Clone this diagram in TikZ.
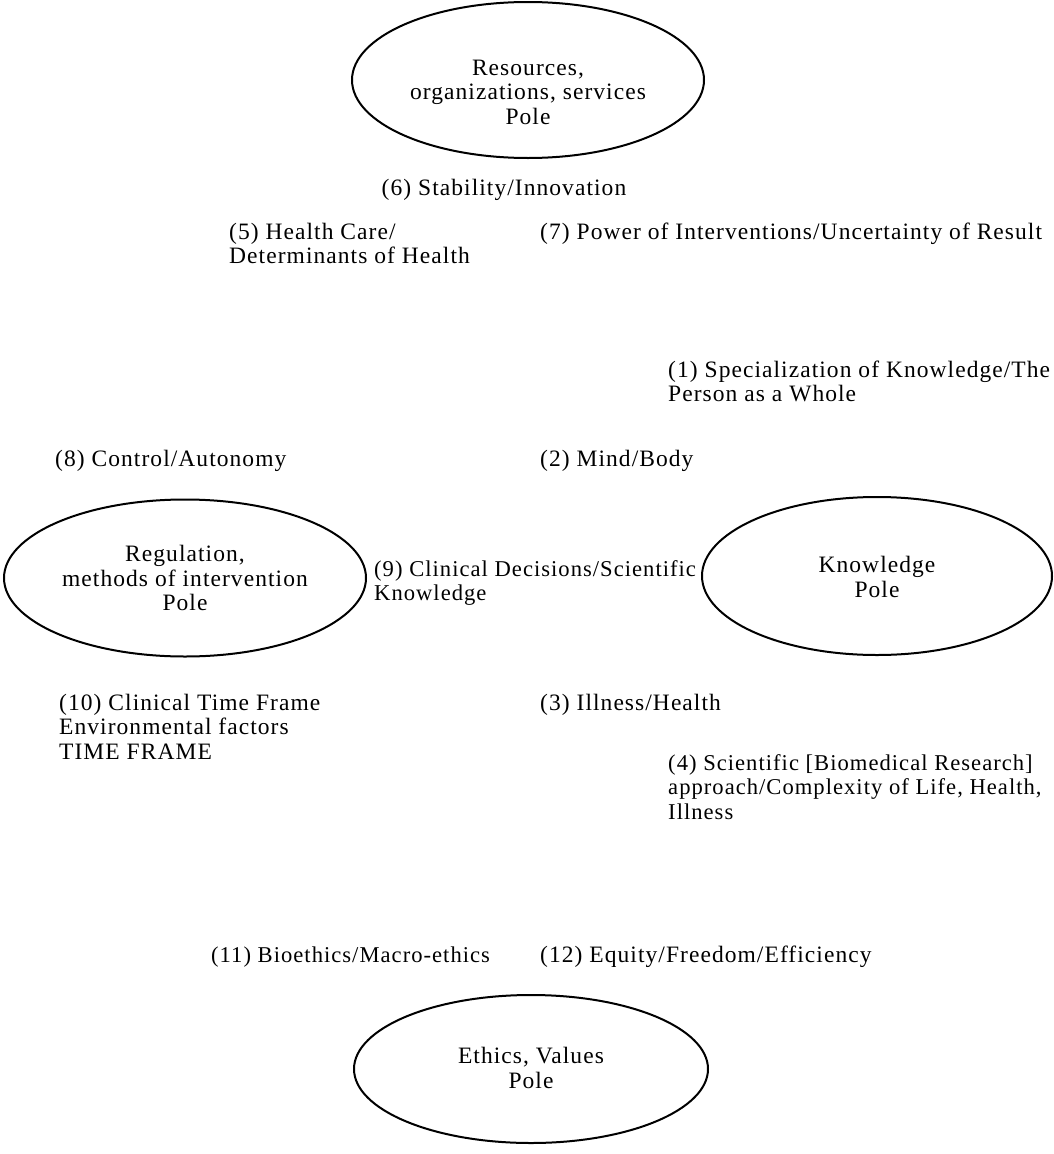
\documentclass[tikz,border=0pt]{standalone}
\usepackage{fontspec}
\setmainfont[LetterSpace=4.5]{Liberation Serif}
\usetikzlibrary{shapes.geometric}
\tikzset{
  pole/.style={draw, ellipse, line width=2pt, inner sep=0pt},
  poletext/.style={align=center, inner sep=0pt, font=\fontsize{23.5}{24.5}\selectfont},
  tlabel/.style={align=left, inner sep=0pt, anchor=base west, font=\fontsize{23.5}{24.5}\selectfont},
  tsmall/.style={tlabel, font=\fontsize{22.6}{24.5}\selectfont},
}
\begin{document}
\begin{tikzpicture}[x=1pt,y=-1pt]
\useasboundingbox (0,0) rectangle (1054,1154);
% poles
\node[pole, minimum width=352pt, minimum height=156pt] (res) at (528,80) {};
\node[pole, minimum width=362pt, minimum height=157pt] (reg) at (185,578) {};
\node[pole, minimum width=350pt, minimum height=158pt] (kno) at (877,576) {};
\node[pole, minimum width=354pt, minimum height=148pt] (eth) at (531,1069) {};
\node[poletext] (rest) at (528,92) {Resources,\\organizations, services\\Pole};
\node[poletext] (regt) at (185,578) {Regulation,\\methods of intervention\\Pole};
\node[poletext] (knot) at (877,577) {Knowledge\\Pole};
\node[poletext] (etht) at (531,1068) {Ethics, Values\\Pole};
% tensions (multi-line nodes: base = last line)
\node[tlabel, anchor=base] (t6) at (504,195) {(6) Stability/Innovation};
\node[tlabel] (t5) at (229,263.5) {(5) Health Care/\\Determinants of Health};
\node[tlabel] (t7) at (540,239) {(7) Power of Interventions/Uncertainty of Result};
\node[tlabel] (t1) at (668,401.5) {(1) Specialization of Knowledge/The\\Person as a Whole};
\node[tlabel] (t8) at (55,466) {(8) Control/Autonomy};
\node[tlabel] (t2) at (540,466) {(2) Mind/Body};
\node[tsmall] (t9) at (374,600.5) {(9) Clinical Decisions/Scientific\\Knowledge};
\node[tlabel] (t10) at (59,759) {(10) Clinical Time Frame\\Environmental factors\\TIME FRAME};
\node[tlabel] (t3) at (540,710) {(3) Illness/Health};
\node[tsmall] (t4) at (668,819) {(4) Scientific [Biomedical Research]\\approach/Complexity of Life, Health,\\Illness};
\node[tsmall] (t11) at (211,962) {(11) Bioethics/Macro-ethics};
\node[tlabel] (t12) at (540,962) {(12) Equity/Freedom/Efficiency};
\end{tikzpicture}
\end{document}
